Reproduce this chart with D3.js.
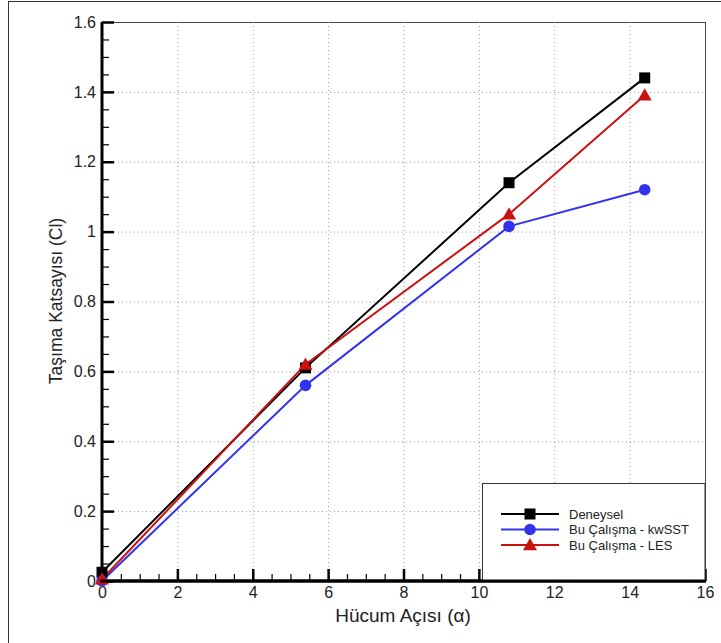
<!DOCTYPE html>
<html>
<head>
<meta charset="utf-8">
<script src="https://cdn.jsdelivr.net/npm/d3@7"></script>
<style>
  html, body { margin: 0; padding: 0; background: #fff; }
  svg { display: block; font-family: Arial, "Liberation Sans", sans-serif; }
</style>
</head>
<body>
<svg id="chart" width="721" height="643"></svg>
<script>
// Lift coefficient vs. angle of attack
const angles = [0, 5.4, 10.8, 14.4];
const deneysel = [0.025, 0.61, 1.14, 1.44];
const kwSST = [0.0, 0.56, 1.015, 1.12];
const les = [0.005, 0.62, 1.05, 1.39];

const seriesNames = ["Deneysel", "Bu Çalışma - kwSST", "Bu Çalışma - LES"];
const seriesColors = ["#000000", "#3333ee", "#cc1111"];
const seriesMarkers = ["square", "circle", "triangle"];
const seriesValues = [deneysel, kwSST, les];

const xTicks = [0, 2, 4, 6, 8, 10, 12, 14, 16];
const yTicks = [0, 0.2, 0.4, 0.6, 0.8, 1, 1.2, 1.4, 1.6];

const svg = d3.select("#chart");
const pLeft = 102, pRight = 705, pTop = 22, pBottom = 581;

const x = d3.scaleLinear().domain([0, 16]).range([pLeft, pRight]);
const y = d3.scaleLinear().domain([0, 1.6]).range([pBottom, pTop]);

// outer frame
svg.append("rect").attr("x", 8.5).attr("y", 1.5).attr("width", 740).attr("height", 700)
  .attr("fill", "none").attr("stroke", "#333").attr("stroke-width", 1);

// plot frame (top/right)
svg.append("rect").attr("x", pLeft).attr("y", pTop + 0.5).attr("width", pRight - pLeft + 0.5).attr("height", pBottom - pTop)
  .attr("fill", "none").attr("stroke", "#444").attr("stroke-width", 1);

// dotted grid
const grid = svg.append("g").attr("stroke", "#999").attr("stroke-width", 1).attr("stroke-dasharray", "1,3");
grid.selectAll("line.gx").data(xTicks.slice(1, -1)).join("line")
  .attr("x1", d => x(d) + 0.5).attr("x2", d => x(d) + 0.5).attr("y1", pTop).attr("y2", pBottom);
grid.selectAll("line.gy").data(yTicks.slice(1, -1)).join("line")
  .attr("y1", d => y(d) + 0.5).attr("y2", d => y(d) + 0.5).attr("x1", pLeft).attr("x2", pRight);

// axes with inward ticks
const xMinor = d3.range(0, 16.001, 0.5).filter(v => Math.abs(v % 2) > 1e-6);
const yMinor = d3.range(0, 1.6001, 0.05).filter(v => Math.abs((v / 0.2) - Math.round(v / 0.2)) > 1e-6);

const xAxisMinor = d3.axisBottom(x).tickValues(xMinor).tickSize(-7).tickFormat("");
const xAxis = d3.axisBottom(x).tickValues(xTicks).tickSize(-12).tickPadding(6).tickFormat(d3.format("d"));
const yAxisMinor = d3.axisLeft(y).tickValues(yMinor).tickSize(-7).tickFormat("");
const yAxis = d3.axisLeft(y).tickValues(yTicks).tickSize(-12).tickPadding(6)
  .tickFormat(d => d === 0 ? "0" : (d === 1 ? "1" : d3.format(".1f")(d)));

const gxm = svg.append("g").attr("transform", `translate(0,${pBottom})`).call(xAxisMinor);
const gx = svg.append("g").attr("transform", `translate(0,${pBottom})`).call(xAxis);
const gym = svg.append("g").attr("transform", `translate(${pLeft},0)`).call(yAxisMinor);
const gy = svg.append("g").attr("transform", `translate(${pLeft},0)`).call(yAxis);

[gxm, gym].forEach(g => {
  g.select(".domain").remove();
  g.selectAll(".tick line").attr("stroke", "#000").attr("stroke-width", 1.2);
});
[gx, gy].forEach(g => {
  g.select(".domain").attr("stroke", "#000").attr("stroke-width", 3);
  g.selectAll(".tick line").attr("stroke", "#000").attr("stroke-width", 2.5);
  g.selectAll(".tick text").attr("fill", "#222").style("font-size", "16px")
    .style("font-family", "Arial, 'Liberation Sans', sans-serif");
});
gx.select(".domain").attr("d", `M${pLeft - 1.5},0H${pRight + 1}`);
gy.select(".domain").attr("d", `M0,${pBottom + 1.5}V${pTop}`);

// axis titles
svg.append("text").attr("x", 403).attr("y", 622).attr("text-anchor", "middle")
  .attr("fill", "#222").style("font-size", "19px").text("Hücum Açısı (α)");
svg.append("text").attr("transform", `translate(62,301) rotate(-90)`)
  .attr("text-anchor", "middle").attr("fill", "#222").style("font-size", "17.5px")
  .text("Taşıma Katsayısı (Cl)");

// marker shapes
function drawMarker(g, kind, cx, cy, color) {
  if (kind === "square") {
    g.append("rect").attr("x", cx - 5.5).attr("y", cy - 5.5).attr("width", 11).attr("height", 11).attr("fill", color);
  } else if (kind === "circle") {
    g.append("circle").attr("cx", cx).attr("cy", cy).attr("r", 5.8).attr("fill", color);
  } else {
    const s = 7;
    g.append("path").attr("d", `M${cx},${cy - s}L${cx + s},${cy + s * 0.75}L${cx - s},${cy + s * 0.75}Z`).attr("fill", color);
  }
}

// series lines and markers
const line = d3.line().x(d => x(d[0])).y(d => y(d[1]));
const plot = svg.append("g");
seriesValues.forEach((vals, i) => {
  const pts = angles.map((a, j) => [a, vals[j]]);
  plot.append("path").datum(pts).attr("d", line).attr("fill", "none")
    .attr("stroke", seriesColors[i]).attr("stroke-width", 2);
});
seriesValues.forEach((vals, i) => {
  angles.forEach((a, j) => drawMarker(plot, seriesMarkers[i], x(a), y(vals[j]), seriesColors[i]));
});

// legend
const lg = svg.append("g");
lg.append("rect").attr("x", 482.5).attr("y", 483.5).attr("width", pRight - 482.5).attr("height", pBottom - 483.5)
  .attr("fill", "#fff").attr("stroke", "#333").attr("stroke-width", 1);
const rowY = [514, 529.5, 545];
seriesNames.forEach((name, i) => {
  lg.append("line").attr("x1", 501).attr("x2", 559).attr("y1", rowY[i]).attr("y2", rowY[i])
    .attr("stroke", seriesColors[i]).attr("stroke-width", 2);
  drawMarker(lg, seriesMarkers[i], 530, rowY[i], seriesColors[i]);
  lg.append("text").attr("x", 569).attr("y", rowY[i] + 4.5).attr("fill", "#222")
    .style("font-size", "13px").text(name);
});
// bottom axis line drawn over the legend border
svg.append("line").attr("x1", pLeft - 1.5).attr("x2", pRight + 1).attr("y1", pBottom).attr("y2", pBottom)
  .attr("stroke", "#000").attr("stroke-width", 3);
</script>
</body>
</html>
